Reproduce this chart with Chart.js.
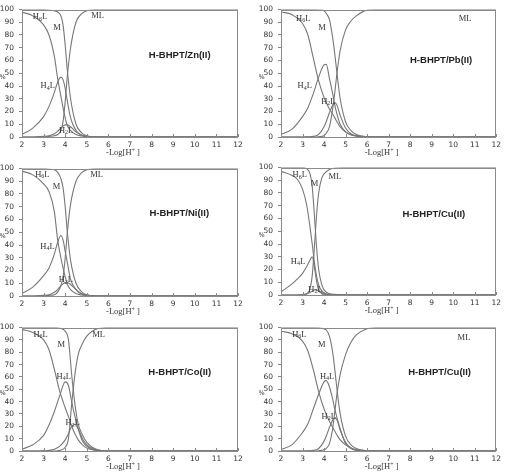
<!DOCTYPE html>
<html>
<head>
<meta charset="utf-8">
<script src="https://cdn.jsdelivr.net/npm/chart.js@4.4.0/dist/chart.umd.min.js"></script>
<style>
  html, body { margin: 0; padding: 0; background: #fff; width: 505px; height: 474px; overflow: hidden; }
  canvas { position: absolute; }
</style>
</head>
<body>
<canvas id="c1" width="250" height="160" style="left:0px;top:0px;width:250px;height:160px"></canvas>
<canvas id="c2" width="246" height="160" style="left:259px;top:0px;width:246px;height:160px"></canvas>
<canvas id="c3" width="250" height="160" style="left:0px;top:159px;width:250px;height:160px"></canvas>
<canvas id="c4" width="246" height="160" style="left:259px;top:158px;width:246px;height:160px"></canvas>
<canvas id="c5" width="250" height="156" style="left:0px;top:318px;width:250px;height:156px"></canvas>
<canvas id="c6" width="246" height="156" style="left:259px;top:318px;width:246px;height:156px"></canvas>
<script>
// ---------- data ----------
const xTicks = [2, 3, 4, 5, 6, 7, 8, 9, 10, 11, 12];
const yTicks = [0, 10, 20, 30, 40, 50, 60, 70, 80, 90, 100];
const seriesNames = ['H6L', 'H4L', 'H2L', 'M', 'ML'];

// Panel 1: H-BHPT/Zn(II)
const znX   = [2, 2.5, 3, 3.25, 3.5, 3.65, 3.8, 3.9, 4, 4.1, 4.25, 4.5, 4.75, 5, 5.5, 6, 12];
const znH6L = [98, 95, 88, 80, 63, 46, 32, 23, 15, 9, 5, 2, 0.8, 0.3, 0, 0, 0];
const znH4L = [2, 7, 16, 24, 35, 43, 47, 45, 38, 28, 15, 5, 1.5, 0.5, 0, 0, 0];
const znH2L = [0, 0, 0.5, 1, 2.5, 4.5, 7, 8.5, 9.5, 9.5, 8, 4, 1.5, 0.5, 0, 0, 0];
const znM   = [100, 100, 100, 99.5, 99, 98, 95, 88, 72, 52, 30, 10, 3.5, 1, 0, 0, 0];
const znML  = [0, 0, 0, 0.5, 1, 2, 5, 12, 28, 48, 70, 90, 96.5, 99, 100, 100, 100];

// Panel 2: H-BHPT/Pb(II)
const pbX   = [2, 2.5, 3, 3.25, 3.5, 3.75, 4, 4.1, 4.25, 4.4, 4.5, 4.6, 4.75, 5, 5.25, 5.5, 6, 6.5, 12];
const pbH6L = [98, 96, 89, 80, 62, 44, 31, 27, 22, 18, 15, 12, 8, 4, 2, 1, 0.2, 0, 0];
const pbH4L = [2, 6, 16, 23, 34, 47, 56.5, 57, 46, 34, 25, 18, 10, 4, 1.5, 0.7, 0, 0, 0];
const pbH2L = [0, 0, 0, 0.2, 0.5, 2, 8, 12, 19, 25, 27, 25, 17, 7, 2.5, 1, 0, 0, 0];
const pbM   = [100, 100, 100, 100, 100, 99.8, 99, 97, 92, 78, 65, 50, 30, 12, 5, 2, 0.3, 0, 0];
const pbML  = [0, 0, 0, 0, 0, 0.2, 1, 3, 8, 22, 35, 50, 68, 84, 91, 95, 99.5, 100, 100];

// Panel 3: H-BHPT/Ni(II)
const niX   = [2, 2.5, 3, 3.25, 3.5, 3.65, 3.8, 3.9, 4, 4.1, 4.25, 4.5, 4.75, 5, 5.5, 6, 12];
const niH6L = [98, 95, 88, 82, 66, 44, 30, 22, 15, 9, 5, 2, 0.8, 0.3, 0, 0, 0];
const niH4L = [2, 7, 16, 22, 33, 42, 47.5, 44, 35, 26, 13, 5, 1.5, 0.5, 0, 0, 0];
const niH2L = [0, 0, 0.5, 1, 3, 5, 8, 9.5, 10.5, 10.5, 9, 5, 2, 0.7, 0, 0, 0];
const niM   = [100, 100, 100, 99.5, 99, 97, 92, 85, 70, 50, 28, 10, 3.5, 1, 0, 0, 0];
const niML  = [0, 0, 0, 0.5, 1, 3, 8, 15, 30, 50, 72, 90, 96.5, 99, 100, 100, 100];

// Panel 4: H-BHPT/Cu(II)
const cuX   = [2, 2.5, 2.75, 3, 3.2, 3.35, 3.45, 3.55, 3.65, 3.75, 3.9, 4, 4.25, 4.5, 5, 6, 12];
const cuH6L = [97, 94, 91, 83, 70, 53, 40, 26, 15, 8, 3, 1.5, 0.5, 0.2, 0, 0, 0];
const cuH4L = [2.5, 8.5, 12.5, 17, 22.5, 27.5, 30, 22, 11, 4, 1, 0.5, 0, 0, 0, 0, 0];
const cuH2L = [0, 0, 0, 0.3, 1, 2, 3, 4, 4, 3, 1.5, 0.8, 0.2, 0, 0, 0, 0];
const cuM   = [100, 100, 100, 100, 99, 95, 85, 63, 38, 20, 8, 4, 1, 0.5, 0, 0, 0];
const cuML  = [0, 0, 0, 0, 1, 5, 15, 37, 62, 80, 92, 95, 98.5, 99.5, 100, 100, 100];

// Panel 5: H-BHPT/Co(II)
const coX   = [2, 2.5, 3, 3.25, 3.5, 3.75, 4, 4.15, 4.3, 4.45, 4.6, 4.8, 5, 5.25, 5.5, 6, 12];
const coH6L = [98.5, 96, 90, 82, 66, 48, 35, 28, 20, 14, 9, 5, 2.5, 1, 0.4, 0, 0];
const coH4L = [1.5, 5, 12.6, 21, 32, 45, 56, 53, 40, 28, 18, 8, 4, 1.5, 0.5, 0, 0];
const coH2L = [0, 0, 0.2, 0.5, 1.5, 4, 9, 14, 20, 21.5, 18, 10, 5, 2, 0.7, 0, 0];
const coM   = [100, 100, 100, 100, 100, 99.5, 97, 90, 62, 38, 22, 13, 7, 3, 1, 0, 0];
const coML  = [0, 0, 0, 0, 0, 0.5, 3, 10, 38, 62, 78, 87, 93, 97, 99, 100, 100];

// Panel 6: H-BHPT/Cu(II)
const cu2X   = [2, 2.5, 3, 3.25, 3.5, 3.75, 4, 4.1, 4.25, 4.4, 4.5, 4.6, 4.75, 5, 5.25, 5.5, 6, 6.5, 12];
const cu2H6L = [97, 95, 89, 81, 66, 48, 34, 30, 24, 19, 16, 13, 9, 5, 2.5, 1, 0.2, 0, 0];
const cu2H4L = [1.3, 5, 15, 22, 34, 46, 56, 57, 52, 42, 34, 27, 18, 6, 2, 0.5, 0, 0, 0];
const cu2H2L = [0, 0, 0, 0.2, 0.5, 2, 8, 12, 19, 25, 27, 25, 17, 7, 2.5, 1, 0, 0, 0];
const cu2M   = [100, 100, 100, 100, 100, 99.8, 99, 98, 93, 80, 66, 50, 30, 12, 5, 2, 0.3, 0, 0];
const cu2ML  = [0, 0, 0, 0, 0, 0.2, 1, 2, 6, 18, 32, 46, 62, 78, 88, 94, 99, 100, 100];

const titles = ['H-BHPT/Zn(II)', 'H-BHPT/Pb(II)', 'H-BHPT/Ni(II)', 'H-BHPT/Cu(II)', 'H-BHPT/Co(II)', 'H-BHPT/Cu(II)'];
const yTitle = '%';

// ---------- layout / annotation placement ----------
const panels = [
  { id: 'c1', x: znX, s: [znH6L, znH4L, znH2L, znM, znML], right: 12,
    title: [9.3, 64], lab: { H6L: [2.83, 94], M: [3.62, 86], ML: [5.5, 95], H4L: [3.19, 40], H2L: [4.04, 5] } },
  { id: 'c2', x: pbX, s: [pbH6L, pbH4L, pbH2L, pbM, pbML], right: 5,
    title: [9.44, 60], lab: { H6L: [3.03, 93], M: [3.91, 86], ML: [10.55, 93], H4L: [3.1, 40], H2L: [4.2, 28] } },
  { id: 'c3', x: niX, s: [niH6L, niH4L, niH2L, niM, niML], right: 12,
    title: [9.28, 65], lab: { H6L: [2.94, 95], M: [3.6, 86], ML: [5.45, 95], H4L: [3.18, 39], H2L: [4.03, 12.6] } },
  { id: 'c4', x: cuX, s: [cuH6L, cuH4L, cuH2L, cuM, cuML], right: 5,
    title: [9.1, 63], lab: { H6L: [2.87, 94], M: [3.56, 87], ML: [4.5, 93], H4L: [2.79, 26], H2L: [3.6, 4] } },
  { id: 'c5', x: coX, s: [coH6L, coH4L, coH2L, coM, coML], right: 12,
    title: [9.3, 64], lab: { H6L: [2.86, 94], M: [3.82, 86], ML: [5.55, 94], H4L: [3.93, 60], H2L: [4.35, 22.7] } },
  { id: 'c6', x: cu2X, s: [cu2H6L, cu2H4L, cu2H2L, cu2M, cu2ML], right: 5,
    title: [9.37, 64], lab: { H6L: [2.85, 94], M: [3.9, 86], ML: [10.5, 92], H4L: [4.14, 60.5], H2L: [4.22, 27.8] } }
];

const GRAY = '#777';
const TXT = '#333';

function drawChem(ctx, name, cx, cy) {
  const main = '8.5px "Liberation Serif", "Times New Roman", serif';
  const sub = '6px "Liberation Serif", "Times New Roman", serif';
  ctx.fillStyle = TXT;
  ctx.textBaseline = 'middle';
  ctx.textAlign = 'left';
  let parts;
  const m = name.match(/^H(\d)L$/);
  if (m) parts = [['H', main, 0], [m[1], sub, 2], ['L', main, 0]];
  else parts = [[name, main, 0]];
  let w = 0;
  parts.forEach(p => { ctx.font = p[1]; w += ctx.measureText(p[0]).width; });
  let px = cx - w / 2;
  parts.forEach(p => { ctx.font = p[1]; ctx.fillText(p[0], px, cy + p[2]); px += ctx.measureText(p[0]).width; });
}

const decor = {
  id: 'decor',
  afterDraw(chart, args, opts) {
    const { ctx, chartArea: a, scales: { x, y } } = chart;
    const cfg = opts.cfg;
    ctx.save();
    // frame
    ctx.strokeStyle = '#8a8a8a';
    ctx.lineWidth = 1;
    ctx.strokeRect(Math.round(a.left) + 0.5, Math.round(a.top) + 0.5, Math.round(a.right - a.left) - 1, Math.round(a.bottom - a.top) - 1);
    // inward x ticks
    ctx.beginPath();
    xTicks.forEach(v => {
      const px = Math.round(x.getPixelForValue(v)) + 0.5;
      ctx.moveTo(px, a.bottom);
      ctx.lineTo(px, a.bottom - 3);
    });
    ctx.stroke();
    // species labels
    Object.keys(cfg.lab).forEach(k => {
      const p = cfg.lab[k];
      drawChem(ctx, k, x.getPixelForValue(p[0]), y.getPixelForValue(p[1]));
    });
    // title
    ctx.font = 'bold 9.5px "Liberation Sans", Arial, sans-serif';
    ctx.fillStyle = '#222';
    ctx.textAlign = 'center';
    ctx.textBaseline = 'middle';
    ctx.fillText(cfg.titleText, x.getPixelForValue(cfg.title[0]), y.getPixelForValue(cfg.title[1]));
    // x axis title  -Log[H+]
    const tx = (a.left + a.right) / 2 - 7;
    const ty = a.bottom + 16;
    const main = '8.5px "Liberation Serif", "Times New Roman", serif';
    const sup = '6px "Liberation Serif", "Times New Roman", serif';
    const segs = [['-Log[H', main, 0], ['+', sup, -2.5], [' ]', main, 0]];
    let w = 0;
    segs.forEach(s => { ctx.font = s[1]; w += ctx.measureText(s[0]).width; });
    let px = tx - w / 2;
    ctx.textAlign = 'left';
    ctx.fillStyle = TXT;
    segs.forEach(s => { ctx.font = s[1]; ctx.fillText(s[0], px, ty + s[2]); px += ctx.measureText(s[0]).width; });
    // y title %
    ctx.font = '6.5px "DejaVu Sans", sans-serif';
    ctx.fillText(yTitle, -0.5, (a.top + a.bottom) / 2 + 4);
    ctx.restore();
  }
};

panels.forEach((p, i) => {
  p.titleText = titles[i];
  const datasets = p.s.map((ys, j) => ({
    label: seriesNames[j],
    data: p.x.map((xv, k) => ({ x: xv, y: ys[k] })),
    borderColor: GRAY,
    borderWidth: 1.1,
    pointRadius: 0,
    cubicInterpolationMode: 'monotone',
    fill: false
  }));
  new Chart(document.getElementById(p.id), {
    type: 'line',
    data: { datasets },
    plugins: [decor],
    options: {
      responsive: false,
      animation: false,
      devicePixelRatio: 1,
      layout: { padding: { top: 5, right: p.right, left: 0, bottom: 0 } },
      plugins: { legend: { display: false }, tooltip: { enabled: false }, decor: { cfg: p } },
      scales: {
        x: {
          type: 'linear', min: 2, max: 12,
          afterFit(s) { s.height = 23; },
          afterBuildTicks(s) { s.ticks = xTicks.map(v => ({ value: v })); },
          grid: { display: false, drawTicks: false },
          border: { display: false },
          ticks: { padding: 4, color: TXT, maxRotation: 0, autoSkip: false, font: { family: 'DejaVu Sans', size: 7.5 } }
        },
        y: {
          type: 'linear', min: 0, max: 100,
          afterFit(s) { s.width = 22; },
          afterBuildTicks(s) { s.ticks = yTicks.map(v => ({ value: v })); },
          grid: { drawOnChartArea: false, drawTicks: true, tickLength: 3, color: '#888' },
          border: { display: false },
          ticks: { padding: 5, color: TXT, autoSkip: false, font: { family: 'DejaVu Sans', size: 7.5 } }
        }
      }
    }
  });
});
</script>
</body>
</html>
